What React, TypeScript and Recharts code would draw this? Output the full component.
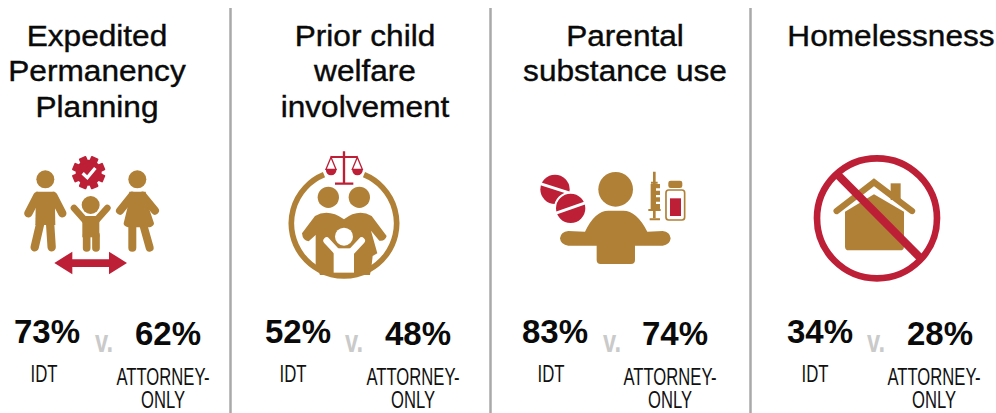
import React from 'react';
import { ComposedChart, Scatter, ReferenceLine, XAxis, YAxis } from 'recharts';

// values
const titles = [
  ['Expedited', 'Permanency', 'Planning'],
  ['Prior child', 'welfare', 'involvement'],
  ['Parental', 'substance use'],
  ['Homelessness'],
];
const idtValues = [73, 52, 83, 34];
const attorneyValues = [62, 48, 74, 28];
const idtLabel = 'IDT';
const attorneyLabel = ['ATTORNEY-', 'ONLY'];
const versusLabel = 'v.';

// layout, in page pixels
const WIDTH = 996;
const HEIGHT = 413;
const titleX = [97, 365, 625, 891];
const iconX = [0, 270, 520, 800];
const iconY = [140, 140, 150, 145];
const idtX = [47, 298, 555, 820];
const attorneyX = [168, 418, 675, 940];
const versusX = [104, 354, 612, 876];
const idtLabelX = [44, 293, 551, 815];
const attorneyLabelX = [163, 413, 670, 934];
const dividers = [230.5, 490.5, 750.5];

const GOLD = '#b08036';
const RED = '#bd1f37';
const FONT = '"Liberation Sans", Arial, sans-serif';

// icons are drawn at 3x inside their own box, then scaled down
const FamilyIcon = () => (
  <g fill={GOLD} stroke="none">
    <circle cx={136} cy={118} r={27} />
    <path d="M108 155 L164 155 L166 255 L106 255 Z" />
    <g stroke={GOLD} strokeWidth={25} strokeLinecap="round" fill="none">
      <path d="M112 168 L85 220 M160 168 L187 220" />
      <path d="M122 245 L104 322 M150 245 L155 322" />
    </g>
    <circle cx={272} cy={195} r={27} />
    <path d="M247 228 L298 228 L298 292 L247 292 Z" />
    <g stroke={GOLD} strokeLinecap="round" fill="none">
      <path d="M222 204 L256 242 M322 204 L288 242" strokeWidth={20} />
      <path d="M260 285 L260 324 M288 285 L288 324" strokeWidth={23} />
    </g>
    <circle cx={412} cy={118} r={27} />
    <path d="M388 155 L437 155 L447 205 L462 250 Q462 258 450 262 L384 262 Q370 258 371 250 L382 205 Z" />
    <g stroke={GOLD} strokeWidth={24} strokeLinecap="round" fill="none">
      <path d="M396 167 L360 212 M428 167 L465 212" />
      <path d="M397 255 L397 323 M430 255 L449 323" />
    </g>
    <g fill={RED}>
      <circle cx={266} cy={98} r={39} />
      {[0, 45, 90, 135, 180, 225, 270, 315].map((a) => (
        <rect key={a} x={254} y={48} width={24} height={20} rx={3} transform={`rotate(${a + 22.5} 266 98)`} />
      ))}
    </g>
    <path d="M248 100 L262 113 L286 84" fill="none" stroke="#fff" strokeWidth={10} />
    <path d="M163 369 L217 335 L217 358 L327 358 L327 335 L381 369 L327 403 L327 381 L217 381 L217 403 Z" fill={RED} />
  </g>
);

const ScalesFamilyIcon = () => (
  <g>
    <path d="M282 104 A158 158 0 1 1 162 104" fill="none" stroke={GOLD} strokeWidth={17} />
    <g stroke={RED} fill="none">
      <path d="M222 34 L222 130 M195 131 L250 131" strokeWidth={7} />
      <path d="M182 51 L262 51" strokeWidth={6} />
      <path d="M183 52 L168 88 L198 88 Z M262 52 L247 88 L277 88 Z" strokeWidth={4} />
    </g>
    <path d="M167 88 L200 88 Q198 106 183 106 Q169 106 167 88 Z M246 88 L279 88 Q277 106 262 106 Q248 106 246 88 Z" fill={RED} />
    <circle cx={175} cy={172} r={32} fill={GOLD} />
    <circle cx={268} cy={172} r={32} fill={GOLD} />
    <path
      d="M96 280 L135 228 Q175 205 222 238 Q265 205 305 228 L350 288 Q345 305 328 302 L303 272 L322 340 L308 348 L305 375 L300 405 L150 405 L137 372 L137 285 L116 304 Q98 302 96 280 Z"
      fill={GOLD}
    />
    <circle cx={222} cy={290} r={27} fill="#fff" />
    <path d="M170 302 L205 340 M275 302 L240 340" stroke="#fff" strokeWidth={20} strokeLinecap="round" fill="none" />
    <path d="M191 325 L252 325 L252 398 L191 398 Z" fill="#fff" />
  </g>
);

const SubstanceIcon = () => (
  <g>
    <circle cx={287} cy={118} r={52} fill={GOLD} />
    <path
      d="M195 245 Q225 182 265 182 L310 182 Q350 182 382 245 L428 243 Q450 245 452 265 Q450 285 428 287 L345 287 L345 330 Q345 342 333 342 L242 342 Q230 342 230 330 L230 287 L145 287 Q122 285 120 265 Q122 245 145 243 Z"
      fill={GOLD}
    />
    <circle cx={105} cy={118} r={44} fill={RED} />
    <path d="M58 100 L152 130" stroke="#fff" strokeWidth={9} />
    <circle cx={152} cy={175} r={47} fill={RED} stroke="#fff" strokeWidth={6} />
    <path d="M106 190 L198 158" stroke="#fff" strokeWidth={9} />
    <path d="M403 65 L403 105 M403 178 L403 205" stroke={GOLD} strokeWidth={8} fill="none" />
    <path d="M393 98 L413 98 M385 180 L422 180 M389 208 L420 208" stroke={GOLD} strokeWidth={6} fill="none" />
    <path d="M392 102 L420 102 L420 115 L408 115 L408 122 L420 122 L420 135 L408 135 L408 142 L420 142 L420 155 L408 155 L408 162 L420 162 L420 178 L392 178 Z" fill={GOLD} />
    <rect x={445} y={92} width={42} height={22} rx={7} fill={GOLD} />
    <rect x={438} y={120} width={56} height={90} rx={8} fill="#fff" stroke={GOLD} strokeWidth={5} />
    <rect x={450} y={145} width={33} height={53} fill={RED} />
  </g>
);

const NoHomeIcon = () => (
  <g>
    <path d="M135 200 L222 148 L312 200 L312 305 Q312 316 300 316 L147 316 Q135 316 135 305 Z" fill={GOLD} />
    <rect x={272} y={115} width={30} height={50} fill={GOLD} />
    <path d="M110 198 L222 112 L336 198" fill="none" stroke={GOLD} strokeWidth={19} strokeLinecap="round" />
    <path d="M112 88 L360 338" stroke={RED} strokeWidth={24} />
    <circle cx={231} cy={220} r={180} fill="none" stroke={RED} strokeWidth={20} />
  </g>
);

const icons = [FamilyIcon, ScalesFamilyIcon, SubstanceIcon, NoHomeIcon];

const TitleShape = (props: any) => (
  <g transform={`translate(${props.cx},0) scale(1.09,1)`}>
    {props.payload.lines.map((line: string, i: number) => (
      <text
        key={line}
        x={0}
        y={46 + i * 35.5}
        textAnchor="middle"
        fontFamily={FONT}
        fontSize={29}
        fill="#0a0a0a"
        stroke="#0a0a0a"
        strokeWidth={0.4}
      >
        {line}
      </text>
    ))}
  </g>
);

const IconShape = (props: any) => {
  const Icon = props.payload.icon;
  return (
    <g transform={`translate(${props.cx},${props.cy}) scale(0.3333)`}>
      <Icon />
    </g>
  );
};

const PercentShape = (props: any) => (
  <text x={props.cx} y={props.cy} textAnchor="middle" fontFamily={FONT} fontWeight="bold" fontSize={33} fill="#0a0a0a">
    {props.payload.value}%
  </text>
);

const VersusShape = (props: any) => (
  <text x={props.cx} y={props.cy} textAnchor="middle" fontFamily={FONT} fontWeight="bold" fontSize={31} fill="#c9cac9" textLength={18} lengthAdjust="spacingAndGlyphs">
    {versusLabel}
  </text>
);

const labelWidth = (line: string) => (line.length > 5 ? 93 : line.length > 3 ? 44 : 27);

const NarrowLabelShape = (props: any) => (
  <g>
    {props.payload.lines.map((line: string, i: number) => (
      <text
        key={line}
        x={props.cx}
        y={props.cy + i * 23}
        textAnchor="middle"
        fontFamily={FONT}
        fontSize={23}
        fill="#111"
        textLength={labelWidth(line)}
        lengthAdjust="spacingAndGlyphs"
      >
        {line}
      </text>
    ))}
  </g>
);

const titleData = titles.map((lines, i) => ({ x: titleX[i], y: 40, lines }));
const iconData = icons.map((icon, i) => ({ x: iconX[i], y: iconY[i], icon }));
const idtData = idtValues.map((value, i) => ({ x: idtX[i], y: 343, value }));
const attorneyData = attorneyValues.map((value, i) => ({ x: attorneyX[i], y: 345, value }));
const versusData = versusX.map((x) => ({ x, y: 352 }));
const idtLabelData = idtLabelX.map((x) => ({ x, y: 382, lines: [idtLabel] }));
const attorneyLabelData = attorneyLabelX.map((x) => ({ x, y: 385, lines: attorneyLabel }));

const App = () => (
  <div style={{ position: 'absolute', left: 0, top: 0, background: '#fff' }}>
    <ComposedChart width={WIDTH} height={HEIGHT} margin={{ top: 0, right: 0, bottom: 0, left: 0 }}>
      <XAxis type="number" dataKey="x" domain={[0, WIDTH]} hide />
      <YAxis type="number" dataKey="y" domain={[0, HEIGHT]} reversed hide />
      {dividers.map((x) => (
        <ReferenceLine key={x} segment={[{ x, y: 8 }, { x, y: HEIGHT }]} stroke="#a9a9a9" strokeWidth={2.5} />
      ))}
      <Scatter data={titleData} shape={TitleShape} isAnimationActive={false} />
      <Scatter data={iconData} shape={IconShape} isAnimationActive={false} />
      <Scatter data={idtData} shape={PercentShape} isAnimationActive={false} />
      <Scatter data={attorneyData} shape={PercentShape} isAnimationActive={false} />
      <Scatter data={versusData} shape={VersusShape} isAnimationActive={false} />
      <Scatter data={idtLabelData} shape={NarrowLabelShape} isAnimationActive={false} />
      <Scatter data={attorneyLabelData} shape={NarrowLabelShape} isAnimationActive={false} />
    </ComposedChart>
  </div>
);

export default App;
